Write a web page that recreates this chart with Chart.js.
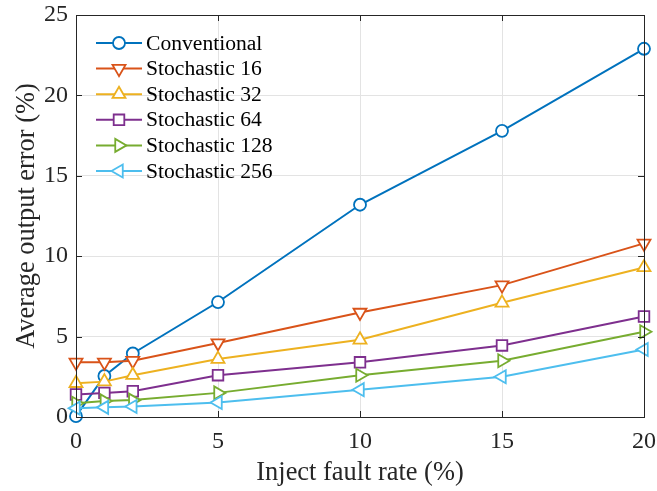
<!DOCTYPE html>
<html>
<head>
<meta charset="utf-8">
<script src="https://cdn.jsdelivr.net/npm/chart.js@4/dist/chart.umd.min.js"></script>
<style>
  html, body { margin: 0; padding: 0; background: #fff; }
  #wrap { width: 657px; height: 491px; }
</style>
</head>
<body>
<div id="wrap"><canvas id="chart" width="657" height="491"></canvas></div>
<script>
const faultRates = [0, 1, 2, 5, 10, 15, 20];

const conventional = [0.05, 2.55, 3.95, 7.15, 13.2, 17.8, 22.9];
const stoch16      = [3.4, 3.4, 3.5, 4.6, 6.5, 8.2, 10.8];
const stoch32      = [2.1, 2.2, 2.6, 3.6, 4.8, 7.1, 9.3];
const stoch64      = [1.4, 1.5, 1.6, 2.6, 3.4, 4.45, 6.25];
const stoch128     = [0.85, 1.0, 1.05, 1.5, 2.6, 3.5, 5.3];
const stoch256     = [0.55, 0.6, 0.65, 0.9, 1.7, 2.5, 4.2];

const seriesNames  = ['Conventional', 'Stochastic 16', 'Stochastic 32', 'Stochastic 64', 'Stochastic 128', 'Stochastic 256'];
const seriesValues = [conventional, stoch16, stoch32, stoch64, stoch128, stoch256];
const colors       = ['#0072BD', '#D95319', '#EDB120', '#7E2F8E', '#77AC30', '#4DBEEE'];
const markers      = ['circle', 'triangle', 'triangle', 'rect', 'triangle', 'triangle'];
const rotations    = [0, 180, 0, 0, 90, 270];
const radii        = [6, 7.5, 7.5, 7.5, 7.5, 7.5];

const xTicks = [0, 5, 10, 15, 20];
const yTicks = [0, 5, 10, 15, 20, 25];

const FONT = '"Liberation Serif", "Times New Roman", serif';

const datasets = seriesNames.map((name, i) => ({
  label: name,
  data: faultRates.map((x, j) => ({ x, y: seriesValues[i][j] })),
  borderColor: colors[i],
  backgroundColor: '#fff',
  borderWidth: 2,
  pointStyle: markers[i],
  pointRotation: rotations[i],
  pointRadius: radii[i],
  pointBorderWidth: 1.8,
  pointBackgroundColor: '#fff',
  tension: 0,
  clip: false,
  order: seriesNames.length - 1 - i,
}));

// box + inward tick marks, MATLAB style
const boxPlugin = {
  id: 'box',
  afterDraw(chart) {
    const { ctx, chartArea: a, scales } = chart;
    ctx.save();
    ctx.strokeStyle = '#262626';
    ctx.lineWidth = 1;
    const len = 6;
    xTicks.forEach(v => {
      const px = Math.round(scales.x.getPixelForValue(v)) + 0.5;
      ctx.beginPath();
      ctx.moveTo(px, a.bottom); ctx.lineTo(px, a.bottom - len);
      ctx.moveTo(px, a.top); ctx.lineTo(px, a.top + len);
      ctx.stroke();
    });
    yTicks.forEach(v => {
      const py = Math.round(scales.y.getPixelForValue(v)) + 0.5;
      ctx.beginPath();
      ctx.moveTo(a.left, py); ctx.lineTo(a.left + len, py);
      ctx.moveTo(a.right, py); ctx.lineTo(a.right - len, py);
      ctx.stroke();
    });
    ctx.strokeRect(Math.round(a.left) + 0.5, Math.round(a.top) + 0.5,
                   Math.round(a.right - a.left), Math.round(a.bottom - a.top));
    ctx.restore();
  }
};

// legend with line + marker, inside top-left
const legendPlugin = {
  id: 'lineLegend',
  afterDraw(chart) {
    const { ctx, chartArea: a } = chart;
    ctx.save();
    ctx.font = '21.6px ' + FONT;
    ctx.textBaseline = 'middle';
    const x0 = a.left + 20, x1 = a.left + 66, yStart = a.top + 28, step = 25.6;
    chart.data.datasets.forEach((ds, i) => {
      const y = yStart + i * step;
      ctx.strokeStyle = ds.borderColor;
      ctx.lineWidth = 2;
      ctx.beginPath(); ctx.moveTo(x0, y); ctx.lineTo(x1, y); ctx.stroke();
      ctx.fillStyle = '#fff';
      ctx.lineWidth = 1.8;
      Chart.helpers.drawPoint(ctx, {
        pointStyle: ds.pointStyle, rotation: ds.pointRotation,
        radius: ds.pointRadius, borderWidth: 1.8
      }, (x0 + x1) / 2, y);
      ctx.fillStyle = '#000';
      ctx.fillText(ds.label, x1 + 4, y + 1);
    });
    ctx.restore();
  }
};

new Chart(document.getElementById('chart'), {
  type: 'line',
  data: { datasets },
  options: {
    responsive: false,
    animation: false,
    layout: { padding: { left: 0, top: 15, right: 13, bottom: 0 } },
    plugins: { legend: { display: false }, tooltip: { enabled: false } },
    scales: {
      x: {
        type: 'linear', min: 0, max: 20,
        afterBuildTicks: s => { s.ticks = xTicks.map(v => ({ value: v })); },
        afterFit: s => { s.height = 74; s.paddingLeft = 0; s.paddingRight = 0; },
        ticks: { color: '#262626', font: { family: FONT, size: 24 }, padding: 10, maxRotation: 0 },
        grid: { color: '#e3e3e3', lineWidth: 1, drawTicks: false },
        border: { display: true, color: '#262626' },
        title: { display: true, text: 'Inject fault rate (%)', color: '#262626',
                 font: { family: FONT, size: 26.4 }, padding: { top: 0, bottom: 2 } }
      },
      y: {
        min: 0, max: 25,
        afterBuildTicks: s => { s.ticks = yTicks.map(v => ({ value: v })); },
        afterFit: s => { s.width = 76; s.paddingTop = 0; s.paddingBottom = 0; },
        ticks: { color: '#262626', font: { family: FONT, size: 24 }, padding: 8 },
        grid: { color: '#e3e3e3', lineWidth: 1, drawTicks: false },
        border: { display: true, color: '#262626' },
        title: { display: true, text: 'Average output error (%)', color: '#262626',
                 font: { family: FONT, size: 26.4 }, padding: { top: 11, bottom: 0 } }
      }
    }
  },
  plugins: [boxPlugin, legendPlugin]
});
</script>
</body>
</html>
